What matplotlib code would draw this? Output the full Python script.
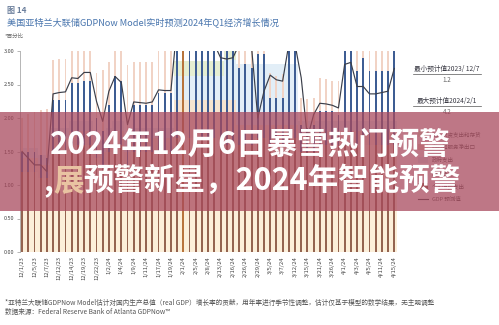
import matplotlib
matplotlib.use("Agg")
import matplotlib.pyplot as plt
import numpy as np
from matplotlib.patches import Rectangle

plt.rcParams['font.family'] = ['Noto Sans CJK SC', 'DejaVu Sans']

W, H = 499, 325

# ---- data -------------------------------------------------------------
dates = ["12/1/23", "12/4/23", "12/5/23", "12/6/23", "12/7/23", "12/8/23",
         "12/12/23", "12/13/23", "12/14/23", "12/15/23", "12/19/23", "12/20/23",
         "12/22/23", "12/28/23", "1/2/24", "1/3/24", "1/4/24", "1/5/24",
         "1/9/24", "1/10/24", "1/11/24", "1/16/24", "1/17/24", "1/18/24",
         "1/19/24", "1/26/24", "2/1/24", "2/2/24", "2/5/24", "2/7/24",
         "2/8/24", "2/9/24", "2/13/24", "2/15/24", "2/16/24", "2/22/24",
         "2/26/24", "2/27/24", "2/29/24", "3/1/24", "3/5/24", "3/6/24",
         "3/7/24", "3/8/24", "3/12/24", "3/14/24", "3/15/24", "3/19/24",
         "3/21/24", "3/22/24", "3/26/24", "3/28/24", "4/1/24", "4/2/24",
         "4/3/24", "4/4/24", "4/5/24", "4/9/24", "4/11/24", "4/12/24", "4/15/24"]

# GDPNow real GDP estimate (line), %
forecast = [1.5, 1.4, 1.3, 1.3, 1.2, 2.36, 2.38, 2.39, 2.60, 2.59, 2.68, 2.68,
            2.25, 1.95, 2.40, 2.62, 2.53, 1.90, 2.24, 2.23, 2.22, 2.24, 2.42,
            2.41, 2.41, 3.4, 4.2, 4.0, 3.6, 3.5, 3.3, 3.1, 2.9, 2.88, 2.9, 3.1,
            3.2, 3.05, 2.0, 2.4, 2.64, 2.57, 2.55, 3.1, 3.1, 2.6, 1.7, 2.05,
            2.22, 2.21, 2.19, 2.15, 2.80, 2.83, 2.47, 2.47, 2.36, 2.36, 2.38,
            2.40, 2.74]

# contributions (stacked, wide)
pce = [1.2, 1.2, 1.2, 1.1, 1.1, 1.5, 1.5, 1.5, 1.6, 1.6, 1.6, 1.6, 1.4, 1.3,
       1.5, 1.6, 1.6, 1.3, 1.5, 1.5, 1.5, 1.5, 1.5, 1.5, 1.5, 1.7, 1.8, 1.7,
       1.7, 1.7, 1.7, 1.7, 1.6, 1.6, 1.6, 1.6, 1.6, 1.6, 1.7, 1.7, 1.6, 1.6,
       1.6, 1.7, 1.7, 1.5, 1.5, 1.5, 1.6, 1.6, 1.6, 1.6, 1.6, 1.6, 1.6, 1.6,
       1.6, 1.6, 1.6, 1.6, 1.6]
invest = [0.2, 0.2, 0.2, 0.2, 0.2, 0.2, 0.2, 0.2, 0.2, 0.2, 0.2, 0.2, 0.2,
          0.2, 0.2, 0.2, 0.2, 0.2, 0.2, 0.2, 0.2, 0.2, 0.2, 0.2, 0.2, 0.57,
          0.47, 0.57, 0.57, 0.57, 0.57, 0.57, 0.67, 0.67, 0.67, 0.3, 0.3, 0.3,
          0.2, 0.2, 0.3, 0.3, 0.3, 0.2, 0.2, 0.25, 0.25, 0.25, 0.2, 0.2, 0.2,
          0.2, 0.2, 0.2, 0.2, 0.2, 0.2, 0.2, 0.2, 0.2, 0.2]
govt = [0.15, 0.15, 0.15, 0.15, 0.15, 0.15, 0.15, 0.15, 0.15, 0.15, 0.15,
        0.15, 0.15, 0.15, 0.15, 0.15, 0.15, 0.15, 0.15, 0.15, 0.15, 0.15,
        0.15, 0.15, 0.15, 0.35, 0.35, 0.35, 0.35, 0.35, 0.35, 0.35, 0.35,
        0.6, 0.6, 0.9, 0.9, 0.9, 0.9, 0.9, 0.9, 0.9, 0.9, 0.9, 0.9, 0.2,
        0.2, 0.2, 0.15, 0.15, 0.15, 0.15, 0.15, 0.15, 0.15, 0.15, 0.15, 0.15,
        0.15, 0.15, 0.15]
invent = [0.0, 0.0, 0.0, 0.0, 0.0, 0.0, 0.0, 0.0, 0.0, 0.0, 0.0, 0.0, 0.0,
          0.0, 0.0, 0.0, 0.0, 0.0, 0.0, 0.0, 0.0, 0.0, 0.0, 0.0, 0.0, 0.23,
          0.23, 0.23, 0.23, 0.23, 0.23, 0.23, 0.23, 0.2, 0.2, 0.0, 0.0, 0.0,
          0.0, 0.0, 0.0, 0.0, 0.0, 0.0, 0.0, 0.0, 0.0, 0.0, 0.0, 0.0, 0.0,
          0.0, 0.0, 0.0, 0.0, 0.0, 0.0, 0.0, 0.0, 0.0, 0.0]

# thin columns: estimate level and gross positive total
gdp_bar = [1.5, 1.5, 1.5, 1.45, 1.4, 2.27, 2.27, 2.27, 2.52, 2.52, 2.55, 2.55,
           2.0, 1.8, 2.2, 2.62, 2.55, 1.8, 2.19, 2.19, 2.19, 2.19, 2.37, 2.37,
           2.37, 3.4, 4.1, 3.9, 3.5, 3.4, 3.2, 3.1, 3.1, 3.1, 3.2, 2.75, 2.8,
           2.75, 2.95, 2.95, 2.3, 2.3, 2.3, 3.2, 3.2, 1.9, 1.85, 1.9, 2.1,
           2.1, 2.1, 2.05, 3.1, 3.1, 2.7, 2.9, 2.7, 2.7, 2.7, 2.7, 3.1]
top_bar = [2.0, 2.06, 2.09, 2.12, 2.13, 2.87, 2.88, 2.88, 3.3, 3.3, 3.3, 3.3,
           2.67, 2.72, 2.83, 3.3, 3.3, 2.79, 2.83, 2.83, 2.83, 2.83, 3.3, 3.3,
           3.3, 3.5, 4.2, 4.0, 3.6, 3.5, 3.3, 3.2, 3.2, 3.2, 3.3, 3.3, 3.3,
           3.3, 3.0, 3.0, 2.67, 2.62, 2.65, 3.3, 3.3, 2.3, 2.28, 2.3, 2.6,
           2.58, 2.55, 2.55, 3.3, 3.3, 3.3, 3.3, 3.3, 3.3, 3.3, 3.3, 3.3]

yticks = [0.0, 0.5, 1.0, 1.5, 2.0, 2.5, 3.0]

# ---- figure -----------------------------------------------------------
fig = plt.figure(figsize=(W / 100, H / 100), dpi=100)
fig.patch.set_facecolor("white")


def fx(x):
    return x / W


def fy(y):
    return 1 - y / H


ax = fig.add_axes([fx(20), fy(252), fx(398) - fx(20), fy(51) - fy(252)])
x = np.arange(len(dates))
pce_a = np.array(pce)
inv_a = np.array(invest)
gov_a = np.array(govt)
ivt_a = np.array(invent)

# wide stacked contributions
ax.bar(x, pce_a, width=1.0, color="#fcefd9", linewidth=0, zorder=1)
ax.bar(x, inv_a, width=1.0, bottom=pce_a, color="#f6e4d0", linewidth=0, zorder=1)
ax.bar(x, gov_a, width=1.0, bottom=pce_a + inv_a, color="#e2eef7", linewidth=0, zorder=1)
ax.bar(x, ivt_a, width=1.0, bottom=pce_a + inv_a + gov_a, color="#e5eed2", linewidth=0, zorder=1)

# thin columns
gb = np.array(gdp_bar)
tb = np.array(top_bar)
peak = int(np.argmax(forecast))
blue_cols = ["#b8743c" if i == peak else "#3e5d93" for i in x]
brown_cols = ["#b8743c" if i == peak else "#946450" for i in x]
ax.bar(x, pce_a, width=0.3, color=brown_cols, linewidth=0, zorder=2)
ax.bar(x, gb - pce_a, width=0.3, bottom=pce_a, color=blue_cols, linewidth=0, zorder=2)
ax.bar(x, tb - gb, width=0.3, bottom=gb, color="#f1d3c5", linewidth=0, zorder=2)

ax.plot(x, forecast, color="#3b3f4a", lw=0.85, zorder=3)

ax.set_xlim(-0.33, 60.6)
ax.set_ylim(0, 3.0)
ax.set_yticks(yticks)
ax.set_yticklabels([f"{v:.2f}" for v in yticks], fontsize=4, color="#444444")
ax.set_xticks(x[::2])
ax.set_xticklabels(dates[::2], rotation=90, fontsize=4.2, color="#444444")
ax.tick_params(axis="x", length=0, pad=3)
ax.tick_params(axis="y", length=2, width=0.5, color="#999999", pad=2)
for s in ["top", "right", "bottom"]:
    ax.spines[s].set_visible(False)
ax.spines["left"].set_color("#aaaaaa")
ax.spines["left"].set_linewidth(0.6)
ax.set_facecolor("none")

# ---- titles and notes -------------------------------------------------
fig.text(fx(7), fy(11), "图 14", fontsize=5.8, color="#6b7f9c", va="center", fontweight="bold")
fig.text(fx(7), fy(22), "美国亚特兰大联储GDPNow Model实时预测2024年Q1经济增长情况",
         fontsize=6.6, color="#4a76ae", va="center")
fig.text(fx(5), fy(36), "*百分比", fontsize=4, color="#666666", va="center")

fig.text(fx(5), fy(303),
         "*亚特兰大联储GDPNow Model估计对国内生产总值（real GDP）增长率的贡献，用年率进行季节性调整，估计仅基于模型的数学结果，无主观调整",
         fontsize=4.8, color="#555555", va="center")
fig.text(fx(5), fy(312), "数据来源：Federal Reserve Bank of Atlanta GDPNow™",
         fontsize=4.8, color="#555555", va="center")

# min / max annotations
min_i = int(np.argmin(forecast))
max_i = peak
for yy, lab, val in [(69, "最小预计值2023/ 12/7", forecast[min_i]),
                     (101, "最大预计值2024/2/1", forecast[max_i])]:
    fig.text(fx(447), fy(yy), lab, fontsize=4.8, color="#3a3a44", ha="center", va="center")
    fig.add_artist(plt.Line2D([fx(413), fx(481)], [fy(yy + 5), fy(yy + 5)],
                              transform=fig.transFigure, color="#555555", lw=0.5))
    fig.text(fx(447), fy(yy + 11), f"{val:.1f}", fontsize=4.5, color="#666666",
             ha="center", va="center")

# legend (right column)
legend_items = [("私人投资支出和存货", "#e5eed2"), ("商品和服务净出口", "#f1d3c5"),
                ("政府支出", "#e2eef7"), ("固定投资", "#f6e4d0"),
                ("个人消费支出", "#946450")]
for k, (lab, col) in enumerate(legend_items):
    yy = 134 + k * 13
    fig.patches.append(Rectangle((fx(418), fy(yy + 3)), fx(10), fy(yy - 3) - fy(yy + 3),
                                 transform=fig.transFigure, facecolor=col, edgecolor="none", zorder=2))
    fig.text(fx(432), fy(yy), lab, fontsize=4, color="#555555", va="center", zorder=2)
fig.add_artist(plt.Line2D([fx(418), fx(428)], [fy(199), fy(199)], transform=fig.transFigure,
                          color="#3b3f4a", lw=0.8, zorder=2))
fig.text(fx(432), fy(199), "GDP 预测值", fontsize=4, color="#555555", va="center", zorder=2)

# ---- headline banner ---------------------------------------------------
fig.patches.append(Rectangle((0, fy(211)), 1, fy(112) - fy(211), transform=fig.transFigure,
                             facecolor="#a8485c", alpha=0.74, edgecolor="none", zorder=4))

fs = 22
fig.text(fx(250), fy(145), "2024年12月6日暴雪热门预警", fontsize=fs, fontweight="bold",
         color="white", ha="center", va="center", zorder=6)

renderer = fig.canvas.get_renderer()
parts = [(",", "white"), ("展", "#e9c3a2"), ("预警新星，2024年智能预警", "white")]
widths = []
for s, _ in parts:
    t = fig.text(0, 0, s, fontsize=fs, fontweight="bold")
    widths.append(t.get_window_extent(renderer).width)
    t.remove()
xpos = 252 - sum(widths) / 2
for (s, c), w in zip(parts, widths):
    fig.text(fx(xpos), fy(181), s, fontsize=fs, fontweight="bold", color=c,
             ha="left", va="center", zorder=6)
    xpos += w

fig.savefig("out.png", dpi=100, facecolor="white")
